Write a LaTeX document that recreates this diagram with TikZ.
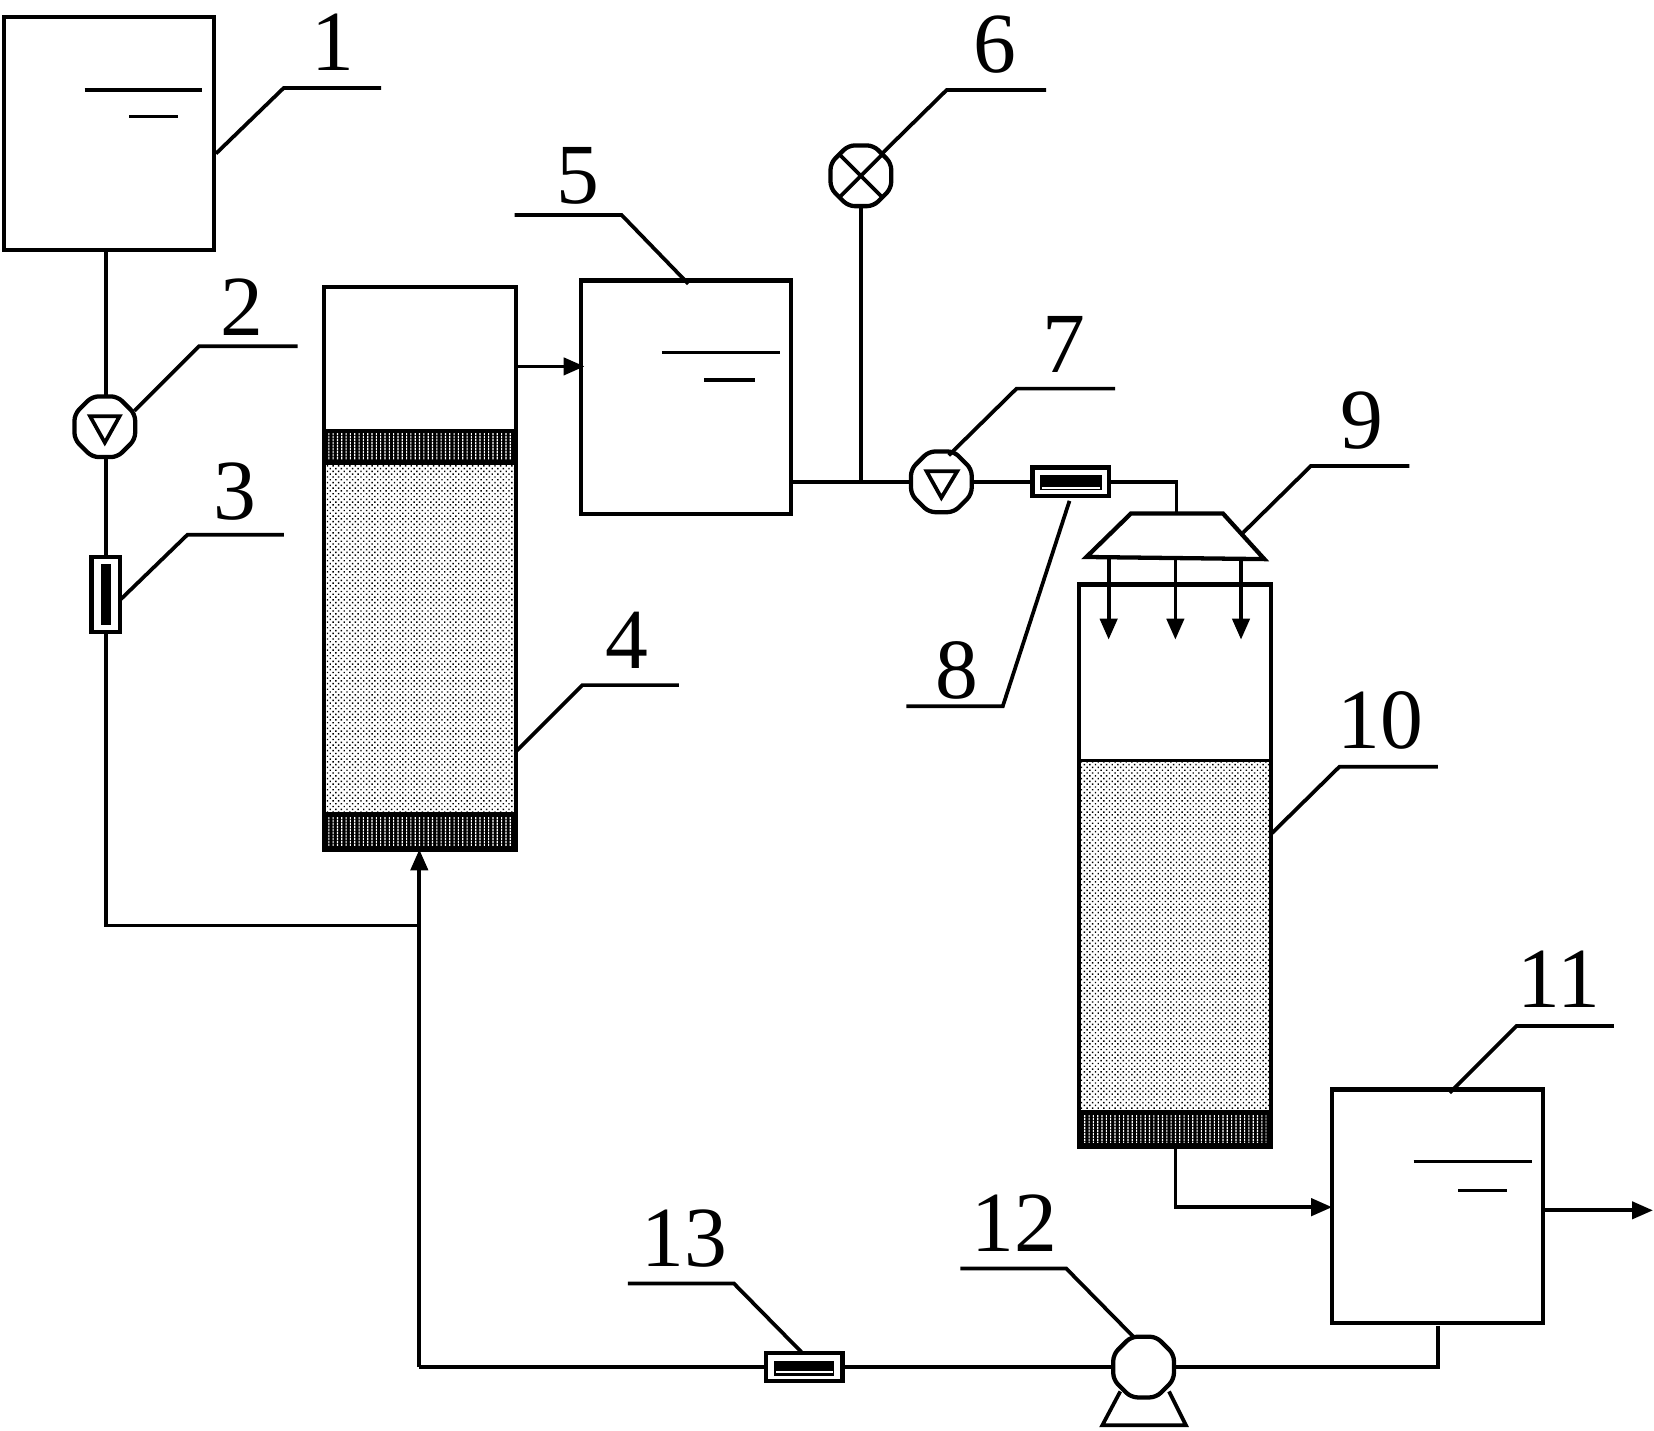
\documentclass[tikz,border=0pt]{standalone}
\usepackage{fontspec}
\setmainfont{Liberation Serif}
\usetikzlibrary{arrows.meta,shapes.geometric,patterns}
\pgfdeclarepatternformonly{lightstipple}{\pgfqpoint{-0.1pt}{-0.1pt}}{\pgfqpoint{1.6pt}{1.6pt}}{\pgfqpoint{1.5pt}{1.5pt}}{%
  \pgfpathrectangle{\pgfqpoint{0pt}{0pt}}{\pgfqpoint{0.38pt}{0.38pt}}%
  \pgfpathrectangle{\pgfqpoint{0.75pt}{0.75pt}}{\pgfqpoint{0.38pt}{0.38pt}}%
  \pgfusepath{fill}}
\pgfdeclarepatternformonly{darkstipple}{\pgfqpoint{-0.1pt}{-0.1pt}}{\pgfqpoint{1.26pt}{1.7pt}}{\pgfqpoint{1.16pt}{1.6pt}}{%
  \pgfpathrectangle{\pgfqpoint{0pt}{0pt}}{\pgfqpoint{0.3pt}{0.6pt}}%
  \pgfpathrectangle{\pgfqpoint{0pt}{0.8pt}}{\pgfqpoint{0.3pt}{0.6pt}}%
  \pgfusepath{fill}}
\tikzset{
  x=0.01cm,y=-0.01cm,
  ln/.style={line width=1.0pt,line join=miter},
  thin ln/.style={line width=0.9pt},
  vessel/.style={draw,line width=1.15pt,fill=white,rectangle,inner sep=0,outer sep=0},
  pumpbody/.style={draw,line width=1.15pt,fill=white,regular polygon,regular polygon sides=8,
     inner sep=0,outer sep=0,minimum size=0.62cm,rounded corners=1.7pt},
  meter/.style={draw,line width=1.15pt,fill=white,rectangle,inner sep=0,outer sep=0},
  core/.style={fill=black,rectangle,inner sep=0,outer sep=0},
  arr/.style={ln,-{Triangle[length=5.6pt,width=4.6pt]}},
  num/.style={inner sep=0,outer sep=0,font=\fontsize{23}{25}\selectfont},
  lightbed/.style={pattern=lightstipple,pattern color=black},
  darkbed/.style={pattern=darkstipple,pattern color=white}
}
\begin{document}
\begin{tikzpicture}
\useasboundingbox (0,0) rectangle (1562,1350.5);
% ---- vessels
\node[vessel,minimum width=1.98cm,minimum height=2.20cm] (t1) at (103,126) {};
\node[vessel,minimum width=1.98cm,minimum height=2.20cm] (t5) at (648,375) {};
\node[vessel,minimum width=1.99cm,minimum height=2.20cm] (t11) at (1357.5,1139) {};
\node[vessel,minimum width=1.81cm,minimum height=5.31cm] (c4) at (396.5,536.5) {};
\node[vessel,minimum width=1.81cm,minimum height=5.31cm] (c10) at (1109.5,817.5) {};
% beds
\fill[lightbed] (306,438) rectangle (487,768);
\fill[black] (306,405) rectangle (487,438);
\fill[black] (306,768) rectangle (487,802);
\fill[darkbed] (310,409) rectangle (483,434);
\fill[darkbed] (310,772) rectangle (483,798);
\fill[lightbed] (1019,718) rectangle (1200,1050);
\fill[black] (1019,1050) rectangle (1200,1083);
\fill[darkbed] (1023,1053) rectangle (1196,1079);
\draw[line width=0.9pt] (306,438) -- (487,438) (306,768) -- (487,768);
\draw[line width=0.9pt] (1019,718) -- (1200,718) (1019,1050) -- (1200,1050);
\draw[line width=1.15pt] (c4.north west) rectangle (c4.south east);
\draw[line width=1.15pt] (c10.north west) rectangle (c10.south east);
% water levels
\draw[thin ln] (80,85) -- (191,85) (122,110) -- (168,110);
\draw[thin ln] (625,333) -- (737,333) (665,359) -- (713,359);
\draw[thin ln] (1335,1097) -- (1447,1097) (1377,1124) -- (1423,1124);
% ---- pipe corners and free ends
\coordinate (j1) at (396,874);
\coordinate (j6) at (813,455);
\coordinate (b8) at (1111,455);
\coordinate (b11) at (1110,1140);
\coordinate (b12) at (1358,1291);
\coordinate (b13) at (396,1291);
\coordinate (t1out) at (100,238);
\coordinate (t11out) at (1358,1252);
\coordinate (c10out) at (1110,1083);
\coordinate (t5out) at (747,455);
% ---- pumps, valve, meters
\node[pumpbody] (p2) at (99,403) {};
\node[pumpbody] (p7) at (889,455) {};
\node[pumpbody] (v6) at (813,166) {};
\node[pumpbody] (p12) at (1080,1291) {};
\draw[ln] (85,393) -- (113,393) -- (99,418) -- cycle;
\draw[ln] (875,445) -- (904,445) -- (889,470) -- cycle;
\draw[ln] (v6.north west) -- (v6.south east) (v6.north east) -- (v6.south west);
\draw[ln] (1058,1314) -- (1041,1346) -- (1120,1346) -- (1104,1314);
\node[meter,minimum width=0.27cm,minimum height=0.71cm] (m3) at (100,561.5) {};
\node[core,minimum width=0.10cm,minimum height=0.57cm] at (100,561.5) {};
\node[meter,minimum width=0.72cm,minimum height=0.27cm] (m8) at (1011,455) {};
\node[core,minimum width=0.58cm,minimum height=0.14cm] at (1011.5,456) {};
\draw[white,line width=0.5pt] (984,461) -- (1039,461);
\node[meter,minimum width=0.72cm,minimum height=0.27cm] (m13) at (759.5,1291) {};
\node[core,minimum width=0.57cm,minimum height=0.14cm] at (759.5,1292) {};
\draw[white,line width=0.5pt] (733,1296) -- (787,1296);
% distributor
\node[inner sep=0,outer sep=0] (d9) at (1111,485) {};
\draw[line width=1.15pt,fill=white] (1068,485) -- (1155,485) -- (1194,528) -- (1026,526) -- cycle;
% ---- pipes
\draw[ln] (t1out) -- (p2.north -| t1out);
\draw[ln] (p2.south -| t1out) -- (m3.north -| t1out);
\draw[ln] (m3.south -| t1out) -- (t1out |- j1) -- (j1);
\draw[arr] (b13) -- (j1 |- c4.south);
\draw[arr] (c4.east |- 0,346) -- (552,346);
\draw[ln] (t5out) -- (j6) -- (p7.west);
\draw[ln] (v6.south) -- (j6);
\draw[ln] (p7.east) -- (m8.west);
\draw[ln] (m8.east) -- (b8) -- (d9);
\draw[arr] (1047,527) -- (1047,604);
\draw[arr] (1110,527) -- (1110,604);
\draw[arr] (1172,527) -- (1172,604);
\draw[arr] (c10out) -- (b11) -- (1258,1140);
\draw[arr] (t11.east |- 0,1143) -- (1561,1143);
\draw[ln] (t11out) -- (b12) -- (p12.east);
\draw[ln] (p12.west) -- (m13.east);
\draw[ln] (m13.west) -- (b13);
% ---- leaders
\draw[ln] (204,145) -- (268,83) -- (360,83);
\draw[ln] (127,388) -- (188,327) -- (281,327);
\draw[ln] (114,566) -- (177,505) -- (268,505);
\draw[ln] (488,709) -- (550,647) -- (641,647);
\draw[ln] (650,268) -- (587,203) -- (486,203);
\draw[ln] (833,145) -- (894,85) -- (988,85);
\draw[ln] (896,430) -- (960,367) -- (1053,367);
\draw[ln] (1010,473) -- (947,667) -- (856,667);
\draw[ln] (1174,503) -- (1238,440) -- (1331,440);
\draw[ln] (1201,787) -- (1265,724) -- (1358,724);
\draw[ln] (1369,1032) -- (1432,969) -- (1524,969);
\draw[ln] (907,1198) -- (1007,1198) -- (1070,1262);
\draw[ln] (593,1212) -- (693,1212) -- (757,1277);
% ---- numbers
\node[num] (n1) at (314,40) {1};
\node[num] (n2) at (228,290) {2};
\node[num] (n3) at (222,464) {3};
\node[num] (n4) at (592,605) {4};
\node[num] (n5) at (546,166) {5};
\node[num] (n6) at (940,42) {6};
\node[num] (n7) at (1005,325) {7};
\node[num] (n8) at (904,633) {8};
\node[num] (n9) at (1286,397) {9};
\node[num] (n10) at (1304,680) {10};
\node[num] (n11) at (1472,925) {11};
\node[num] (n12) at (958,1155) {12};
\node[num] (n13) at (646,1170) {13};
\end{tikzpicture}
\end{document}
